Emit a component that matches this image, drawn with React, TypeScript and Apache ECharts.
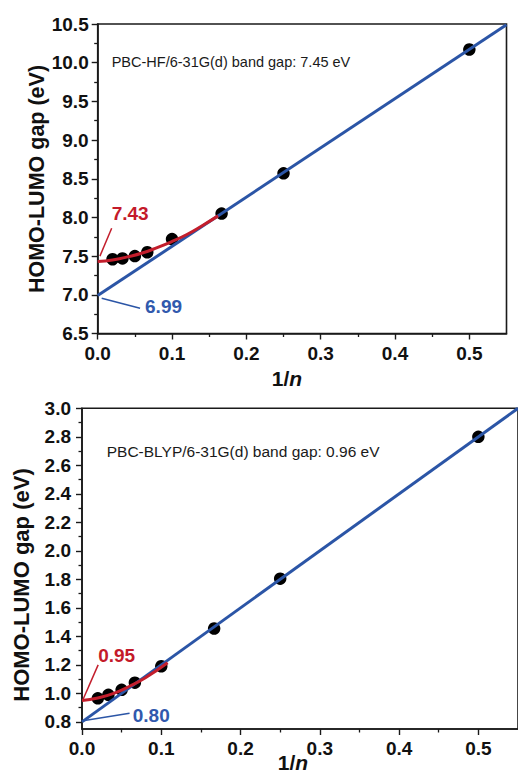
import React, { useEffect, useRef } from "react";
import * as echarts from "echarts";

// ---- data ----
const invN = [0.02, 0.0333, 0.05, 0.0667, 0.1, 0.1667, 0.25, 0.5];
const hfGap = [7.46, 7.47, 7.5, 7.55, 7.72, 8.05, 8.57, 10.17];
const blypGap = [0.965, 0.99, 1.025, 1.075, 1.19, 1.455, 1.805, 2.8];

const hfLinearFit = [
  [0, 6.99],
  [0.55, 10.49],
];
const hfCurveFit = [
  [0, 7.43],
  [0.02, 7.45],
  [0.04, 7.49],
  [0.06, 7.54],
  [0.08, 7.61],
  [0.1, 7.69],
  [0.12, 7.78],
  [0.14, 7.89],
  [0.162, 8.02],
];
const blypLinearFit = [
  [0, 0.8],
  [0.55, 3.0],
];
const blypCurveFit = [
  [0, 0.95],
  [0.02, 0.968],
  [0.04, 1.0],
  [0.06, 1.05],
  [0.08, 1.11],
  [0.108, 1.215],
];

// annotation leader lines and label anchors (data coordinates)
const hfRedLeader = [
  [0.003, 7.5],
  [0.0188, 7.86],
];
const hfBlueLeader = [
  [0.0054, 6.956],
  [0.057, 6.827],
];
const hfRedLabel = [0.0188, 8.054];
const hfBlueLabel = [0.0637, 6.848];
const blypRedLeader = [
  [0.001, 0.953],
  [0.0204, 1.2],
];
const blypBlueLeader = [
  [0.00125, 0.808],
  [0.06, 0.86],
];
const blypRedLabel = [0.0204, 1.269];
const blypBlueLabel = [0.064, 0.848];

const hfExtrapLabel = "7.43";
const hfLinearLabel = "6.99";
const blypExtrapLabel = "0.95";
const blypLinearLabel = "0.80";

const xMajorTicks = [0, 0.1, 0.2, 0.3, 0.4, 0.5];
const xMinorTicks = [0.05, 0.15, 0.25, 0.35, 0.45];
const hfYMajorTicks = [6.5, 7.0, 7.5, 8.0, 8.5, 9.0, 9.5, 10.0, 10.5];
const hfYMinorTicks = [6.75, 7.25, 7.75, 8.25, 8.75, 9.25, 9.75, 10.25];
const blypYMajorTicks = [0.8, 1.0, 1.2, 1.4, 1.6, 1.8, 2.0, 2.2, 2.4, 2.6, 2.8, 3.0];
const blypYMinorTicks = [0.9, 1.1, 1.3, 1.5, 1.7, 1.9, 2.1, 2.3, 2.5, 2.7, 2.9];

const hfTitle = "PBC-HF/6-31G(d) band gap: 7.45 eV";
const blypTitle = "PBC-BLYP/6-31G(d) band gap: 0.96 eV";
const yTitle = "HOMO-LUMO gap (eV)";

const FONT = "'Liberation Sans', Arial, Helvetica, sans-serif";
const AXIS_COLOR = "#1a1a1a";
const BLUE = "#2b55a6";
const RED = "#c31e2c";
const BLUE_TEXT = "#3159ad";
const RED_TEXT = "#c41a2a";

function majorAxis(
  dim: "x" | "y",
  gridIndex: number,
  min: number,
  max: number,
  ticks: number[],
  margin: number
) {
  return {
    type: "value",
    gridIndex,
    min,
    max,
    position: dim === "x" ? "bottom" : "left",
    axisLine: { show: true, onZero: false, lineStyle: { color: AXIS_COLOR, width: 1.6 } },
    axisTick: {
      show: true,
      inside: false,
      length: 6,
      customValues: ticks,
      lineStyle: { color: AXIS_COLOR, width: 1.4 },
    },
    axisLabel: {
      show: true,
      customValues: ticks,
      margin,
      fontFamily: FONT,
      fontWeight: "bold",
      fontSize: 19,
      color: "#111",
      formatter: (v: number) => v.toFixed(1),
    },
    splitLine: { show: false },
  };
}

function minorAxis(dim: "x" | "y", gridIndex: number, min: number, max: number, ticks: number[]) {
  return {
    type: "value",
    gridIndex,
    min,
    max,
    position: dim === "x" ? "bottom" : "left",
    axisLine: { show: false, onZero: false },
    axisTick: {
      show: true,
      inside: false,
      length: 3.5,
      customValues: ticks,
      lineStyle: { color: AXIS_COLOR, width: 1.3 },
    },
    axisLabel: { show: false },
    splitLine: { show: false },
  };
}

function fitLine(data: number[][], color: string, xi: number, yi: number, smooth: boolean) {
  return {
    type: "line",
    xAxisIndex: xi,
    yAxisIndex: yi,
    data,
    smooth,
    symbol: "none",
    lineStyle: { color, width: 3, opacity: 1 },
    z: 4,
  };
}

function leader(data: number[][], color: string, xi: number, yi: number) {
  return {
    type: "line",
    xAxisIndex: xi,
    yAxisIndex: yi,
    data,
    symbol: "none",
    lineStyle: { color, width: 1.5, opacity: 1 },
    z: 5,
  };
}

function textMark(pos: number[], text: string, color: string, xi: number, yi: number) {
  return {
    type: "scatter",
    xAxisIndex: xi,
    yAxisIndex: yi,
    data: [pos],
    symbolSize: 0,
    silent: true,
    itemStyle: { opacity: 1 },
    label: {
      show: true,
      position: [0, 0],
      align: "left",
      verticalAlign: "middle",
      formatter: text,
      fontFamily: FONT,
      fontWeight: "bold",
      fontSize: 19,
      color,
      opacity: 1,
    },
    z: 6,
  };
}

function points(ys: number[], xi: number, yi: number) {
  return {
    type: "scatter",
    xAxisIndex: xi,
    yAxisIndex: yi,
    data: invN.map((x, i) => [x, ys[i]]),
    symbol: "circle",
    symbolSize: 12.5,
    itemStyle: { color: "#000", opacity: 1 },
    z: 2,
  };
}

export default function App() {
  const ref = useRef<HTMLDivElement>(null);

  useEffect(() => {
    if (!ref.current) return;
    const chart = echarts.init(ref.current, undefined, { renderer: "svg" });

    const richX = {
      a: { fontFamily: FONT, fontSize: 21, fontWeight: "bold", fill: "#111", color: "#111" },
      b: {
        fontFamily: FONT,
        fontSize: 21,
        fontWeight: "bold",
        fontStyle: "italic",
        fill: "#111",
        color: "#111",
      },
    };

    const option: any = {
      animation: false,
      backgroundColor: "#fff",
      grid: [
        {
          left: 97.7,
          top: 24,
          width: 408.8,
          height: 309.5,
          show: true,
          borderColor: AXIS_COLOR,
          borderWidth: 1.6,
          backgroundColor: "transparent",
        },
        {
          left: 82,
          top: 408.3,
          width: 440,
          height: 320.7,
          show: true,
          borderColor: AXIS_COLOR,
          borderWidth: 1.6,
          backgroundColor: "transparent",
        },
      ],
      xAxis: [
        majorAxis("x", 0, 0, 0.55, xMajorTicks, 10),
        minorAxis("x", 0, 0, 0.55, xMinorTicks),
        majorAxis("x", 1, 0, 0.55, xMajorTicks, 10),
        minorAxis("x", 1, 0, 0.55, xMinorTicks),
      ],
      yAxis: [
        majorAxis("y", 0, 6.5, 10.5, hfYMajorTicks, 9),
        minorAxis("y", 0, 6.5, 10.5, hfYMinorTicks),
        majorAxis("y", 1, 0.75, 3.0, blypYMajorTicks, 11),
        minorAxis("y", 1, 0.75, 3.0, blypYMinorTicks),
      ],
      series: [
        points(hfGap, 0, 0),
        fitLine(hfLinearFit, BLUE, 0, 0, false),
        fitLine(hfCurveFit, RED, 0, 0, true),
        leader(hfRedLeader, RED, 0, 0),
        leader(hfBlueLeader, BLUE, 0, 0),
        textMark(hfRedLabel, hfExtrapLabel, RED_TEXT, 0, 0),
        textMark(hfBlueLabel, hfLinearLabel, BLUE_TEXT, 0, 0),

        points(blypGap, 2, 2),
        fitLine(blypLinearFit, BLUE, 2, 2, false),
        fitLine(blypCurveFit, RED, 2, 2, true),
        leader(blypRedLeader, RED, 2, 2),
        leader(blypBlueLeader, BLUE, 2, 2),
        textMark(blypRedLabel, blypExtrapLabel, RED_TEXT, 2, 2),
        textMark(blypBlueLabel, blypLinearLabel, BLUE_TEXT, 2, 2),
      ],
      graphic: [
        {
          type: "text",
          x: 111.7,
          y: 61.7,
          style: {
            text: hfTitle,
            fontFamily: FONT,
            fontSize: 14.5,
            fill: "#1a1a1a",
            align: "left",
            verticalAlign: "middle",
          },
        },
        {
          type: "text",
          x: 106.7,
          y: 451.7,
          style: {
            text: blypTitle,
            fontFamily: FONT,
            fontSize: 15.5,
            fill: "#1a1a1a",
            align: "left",
            verticalAlign: "middle",
          },
        },
        {
          type: "text",
          x: 36.7,
          y: 179,
          rotation: Math.PI / 2,
          style: {
            text: yTitle,
            fontFamily: FONT,
            fontSize: 21.5,
            fontWeight: "bold",
            fill: "#111",
            align: "center",
            verticalAlign: "middle",
          },
        },
        {
          type: "text",
          x: 21.7,
          y: 585,
          rotation: Math.PI / 2,
          style: {
            text: yTitle,
            fontFamily: FONT,
            fontSize: 22,
            fontWeight: "bold",
            fill: "#111",
            align: "center",
            verticalAlign: "middle",
          },
        },
        {
          type: "text",
          x: 287,
          y: 378,
          style: {
            text: "{a|1/}{b|n}",
            align: "center",
            verticalAlign: "middle",
            rich: richX,
          },
        },
        {
          type: "text",
          x: 293,
          y: 762,
          style: {
            text: "{a|1/}{b|n}",
            align: "center",
            verticalAlign: "middle",
            rich: richX,
          },
        },
      ],
    };

    chart.setOption(option);
    return () => {
      chart.dispose();
    };
  }, []);

  return (
    <div
      ref={ref}
      style={{ position: "absolute", left: 0, top: 0, width: 518, height: 775, overflow: "hidden" }}
    />
  );
}
